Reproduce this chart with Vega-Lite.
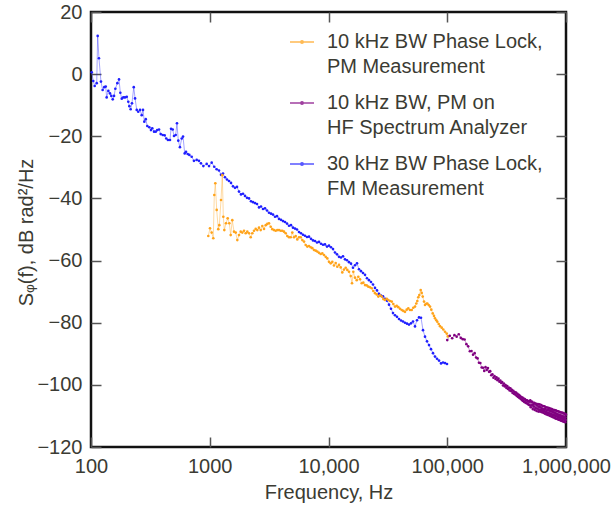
{
 "$schema": "https://vega.github.io/schema/vega-lite/v6.json",
 "width": 475,
 "height": 435,
 "autosize": {"type": "none"},
 "padding": {"left": 91, "top": 12, "right": 46, "bottom": 61},
 "background": "white",
 "config": {
  "font": "Liberation Sans",
  "view": {"stroke": "#111111", "strokeWidth": 2.5},
  "axis": {
   "labelFont": "Liberation Sans", "labelFontSize": 20, "labelColor": "#3b3b33",
   "titleFont": "Liberation Sans", "titleFontSize": 20, "titleFontWeight": "normal", "titleColor": "#3b3b33",
   "domain": false, "grid": false, "tickSize": 10, "offset": -10, "tickColor": "#555555", "tickWidth": 1.5
  }
 },
 "data": {"values": [
  {"series":"FM","freq":101.4,"value":0.6},{"series":"FM","freq":104.5,"value":-2.2},{"series":"FM","freq":107.4,"value":-3.8},{"series":"FM","freq":111.7,"value":-2.9},{"series":"FM","freq":113.8,"value":12.3},{"series":"FM","freq":116.7,"value":5.1},{"series":"FM","freq":121.3,"value":-2.4},{"series":"FM","freq":125.3,"value":-5.1},{"series":"FM","freq":129.4,"value":-4.2},{"series":"FM","freq":133,"value":-4.0},{"series":"FM","freq":135.5,"value":-7.5},{"series":"FM","freq":140,"value":-5.4},{"series":"FM","freq":144.5,"value":-6.2},{"series":"FM","freq":148.3,"value":-7.0},{"series":"FM","freq":152.4,"value":-8.1},{"series":"FM","freq":156.3,"value":-7.0},{"series":"FM","freq":160.3,"value":-4.7},{"series":"FM","freq":166.7,"value":-2.9},{"series":"FM","freq":172.2,"value":-1.7},{"series":"FM","freq":176.6,"value":-6.0},{"series":"FM","freq":181.6,"value":-7.9},{"series":"FM","freq":187.1,"value":-7.5},{"series":"FM","freq":193.2,"value":-7.5},{"series":"FM","freq":200,"value":-7.3},{"series":"FM","freq":206.1,"value":-8.9},{"series":"FM","freq":210.4,"value":-10.3},{"series":"FM","freq":215.8,"value":-11.3},{"series":"FM","freq":221.3,"value":-9.4},{"series":"FM","freq":229.1,"value":-4.2},{"series":"FM","freq":235,"value":-7.8},{"series":"FM","freq":242.7,"value":-11.5},{"series":"FM","freq":250,"value":-12.1},{"series":"FM","freq":258.8,"value":-11.5},{"series":"FM","freq":267.3,"value":-13.2},{"series":"FM","freq":274.2,"value":-11.5},{"series":"FM","freq":281.2,"value":-15.3},{"series":"FM","freq":289.1,"value":-14.5},{"series":"FM","freq":297.8,"value":-16.7},{"series":"FM","freq":309.7,"value":-17.1},{"series":"FM","freq":319.9,"value":-18.0},{"series":"FM","freq":328.1,"value":-17.4},{"series":"FM","freq":339.6,"value":-18.5},{"series":"FM","freq":350.8,"value":-18.5},{"series":"FM","freq":361.4,"value":-18.0},{"series":"FM","freq":374.1,"value":-17.8},{"series":"FM","freq":386.4,"value":-19.3},{"series":"FM","freq":401.8,"value":-19.6},{"series":"FM","freq":416.9,"value":-19.7},{"series":"FM","freq":430.5,"value":-20.7},{"series":"FM","freq":444.6,"value":-21.2},{"series":"FM","freq":462.4,"value":-21.2},{"series":"FM","freq":472.1,"value":-17.6},{"series":"FM","freq":487.5,"value":-17.8},{"series":"FM","freq":500,"value":-19.9},{"series":"FM","freq":516.4,"value":-19.6},{"series":"FM","freq":529.7,"value":-15.8},{"series":"FM","freq":543.3,"value":-21.4},{"series":"FM","freq":561,"value":-23.5},{"series":"FM","freq":580.8,"value":-20.7},{"series":"FM","freq":595.7,"value":-20.1},{"series":"FM","freq":615.2,"value":-25.5},{"series":"FM","freq":631,"value":-25.0},{"series":"FM","freq":651.6,"value":-25.7},{"series":"FM","freq":673,"value":-26.0},{"series":"FM","freq":704.7,"value":-26.6},{"series":"FM","freq":736.2,"value":-27.9},{"series":"FM","freq":776.2,"value":-27.6},{"series":"FM","freq":811,"value":-27.9},{"series":"FM","freq":843.3,"value":-28.7},{"series":"FM","freq":883.1,"value":-29.6},{"series":"FM","freq":941.9,"value":-28.9},{"series":"FM","freq":986.3,"value":-29.6},{"series":"FM","freq":1038,"value":-28.5},{"series":"FM","freq":1091,"value":-29.8},{"series":"FM","freq":1143,"value":-30.6},
  {"series":"FM","freq":1196,"value":-31.0},{"series":"FM","freq":1244,"value":-32.4},{"series":"FM","freq":1293,"value":-32.0},{"series":"FM","freq":1344,"value":-33.2},{"series":"FM","freq":1397,"value":-33.9},{"series":"FM","freq":1453,"value":-34.4},{"series":"FM","freq":1510,"value":-35.0},{"series":"FM","freq":1570,"value":-36.1},{"series":"FM","freq":1632,"value":-36.6},{"series":"FM","freq":1696,"value":-36.3},{"series":"FM","freq":1763,"value":-37.8},{"series":"FM","freq":1833,"value":-38.7},{"series":"FM","freq":1906,"value":-38.5},{"series":"FM","freq":1981,"value":-39.2},{"series":"FM","freq":2059,"value":-39.8},{"series":"FM","freq":2141,"value":-40.0},{"series":"FM","freq":2225,"value":-40.9},{"series":"FM","freq":2313,"value":-41.2},{"series":"FM","freq":2405,"value":-41.5},{"series":"FM","freq":2500,"value":-41.8},{"series":"FM","freq":2599,"value":-42.9},{"series":"FM","freq":2701,"value":-42.6},{"series":"FM","freq":2808,"value":-43.4},{"series":"FM","freq":2919,"value":-43.2},{"series":"FM","freq":3035,"value":-43.9},{"series":"FM","freq":3155,"value":-44.6},{"series":"FM","freq":3280,"value":-44.9},{"series":"FM","freq":3409,"value":-45.2},{"series":"FM","freq":3544,"value":-45.9},{"series":"FM","freq":3684,"value":-45.7},{"series":"FM","freq":3830,"value":-46.6},{"series":"FM","freq":3981,"value":-46.9},{"series":"FM","freq":4139,"value":-47.3},{"series":"FM","freq":4302,"value":-47.6},{"series":"FM","freq":4472,"value":-48.1},{"series":"FM","freq":4649,"value":-48.8},{"series":"FM","freq":4833,"value":-48.6},{"series":"FM","freq":5024,"value":-49.4},{"series":"FM","freq":5223,"value":-49.7},{"series":"FM","freq":5429,"value":-50.0},{"series":"FM","freq":5644,"value":-50.8},{"series":"FM","freq":5867,"value":-51.2},{"series":"FM","freq":6099,"value":-51.7},{"series":"FM","freq":6340,"value":-52.0},{"series":"FM","freq":6591,"value":-52.4},{"series":"FM","freq":6852,"value":-52.3},{"series":"FM","freq":7123,"value":-53.0},{"series":"FM","freq":7404,"value":-53.5},{"series":"FM","freq":7697,"value":-53.7},{"series":"FM","freq":8001,"value":-54.2},{"series":"FM","freq":8318,"value":-54.0},{"series":"FM","freq":8647,"value":-54.6},{"series":"FM","freq":8989,"value":-54.9},{"series":"FM","freq":9344,"value":-54.8},{"series":"FM","freq":9714,"value":-55.5},{"series":"FM","freq":10098,"value":-55.2},{"series":"FM","freq":10497,"value":-55.7},{"series":"FM","freq":10912,"value":-56.3},{"series":"FM","freq":11344,"value":-57.4},{"series":"FM","freq":11792,"value":-58.0},{"series":"FM","freq":12258,"value":-58.8},{"series":"FM","freq":12743,"value":-59.0},{"series":"FM","freq":13247,"value":-58.6},{"series":"FM","freq":13771,"value":-59.6},{"series":"FM","freq":14315,"value":-59.9},{"series":"FM","freq":14881,"value":-60.5},{"series":"FM","freq":15469,"value":-61.0},{"series":"FM","freq":16081,"value":-62.3},{"series":"FM","freq":16717,"value":-61.5},{"series":"FM","freq":17378,"value":-60.9},{"series":"FM","freq":18065,"value":-62.8},{"series":"FM","freq":18780,"value":-63.4},{"series":"FM","freq":19522,"value":-64.0},{"series":"FM","freq":20294,"value":-64.6},{"series":"FM","freq":21097,"value":-65.7},{"series":"FM","freq":21931,"value":-66.3},{"series":"FM","freq":22798,"value":-66.9},{"series":"FM","freq":23700,"value":-67.7},{"series":"FM","freq":24637,"value":-68.8},{"series":"FM","freq":25611,"value":-69.6},{"series":"FM","freq":26624,"value":-70.7},{"series":"FM","freq":27677,"value":-71.3},{"series":"FM","freq":28771,"value":-71.5},{"series":"FM","freq":29909,"value":-72.3},{"series":"FM","freq":31092,"value":-72.9},{"series":"FM","freq":32321,"value":-74.2},{"series":"FM","freq":33599,"value":-75.5},{"series":"FM","freq":34928,"value":-76.9},{"series":"FM","freq":36309,"value":-77.6},{"series":"FM","freq":37745,"value":-78.1},{"series":"FM","freq":39237,"value":-78.8},{"series":"FM","freq":40789,"value":-79.3},{"series":"FM","freq":42402,"value":-79.6},{"series":"FM","freq":44079,"value":-80.0},{"series":"FM","freq":45822,"value":-80.3},{"series":"FM","freq":47634,"value":-80.6},{"series":"FM","freq":49518,"value":-80.2},{"series":"FM","freq":51476,"value":-79.6},{"series":"FM","freq":53512,"value":-81.2},{"series":"FM","freq":55628,"value":-79.2},{"series":"FM","freq":57828,"value":-78.3},{"series":"FM","freq":60115,"value":-78.4},{"series":"FM","freq":62492,"value":-82.4},{"series":"FM","freq":64964,"value":-84.5},{"series":"FM","freq":67533,"value":-86.0},{"series":"FM","freq":70204,"value":-87.2},{"series":"FM","freq":72980,"value":-88.5},{"series":"FM","freq":75866,"value":-89.8},{"series":"FM","freq":78866,"value":-90.9},{"series":"FM","freq":81985,"value":-91.6},{"series":"FM","freq":85227,"value":-92.2},{"series":"FM","freq":88598,"value":-93.1},{"series":"FM","freq":92101,"value":-92.8},{"series":"FM","freq":95743,"value":-93.0},{"series":"FM","freq":99530,"value":-93.3},
  {"series":"PM","freq":972,"value":-52.1},{"series":"PM","freq":1005,"value":-49.6},{"series":"PM","freq":1038,"value":-51.0},{"series":"PM","freq":1071,"value":-52.8},{"series":"PM","freq":1092,"value":-38.9},{"series":"PM","freq":1114,"value":-35.1},{"series":"PM","freq":1144,"value":-43.7},{"series":"PM","freq":1180,"value":-49.9},{"series":"PM","freq":1204,"value":-48.6},{"series":"PM","freq":1244,"value":-40.5},{"series":"PM","freq":1276,"value":-32.5},{"series":"PM","freq":1301,"value":-45.9},{"series":"PM","freq":1326,"value":-50.2},{"series":"PM","freq":1370,"value":-48.0},{"series":"PM","freq":1416,"value":-46.4},{"series":"PM","freq":1461,"value":-48.0},{"series":"PM","freq":1501,"value":-51.8},{"series":"PM","freq":1548,"value":-47.0},{"series":"PM","freq":1601,"value":-50.7},{"series":"PM","freq":1654,"value":-51.0},{"series":"PM","freq":1706,"value":-53.4},{"series":"PM","freq":1763,"value":-51.8},{"series":"PM","freq":1823,"value":-50.7},{"series":"PM","freq":1880,"value":-51.0},{"series":"PM","freq":1943,"value":-50.4},{"series":"PM","freq":2008,"value":-51.2},{"series":"PM","freq":2072,"value":-50.7},{"series":"PM","freq":2141,"value":-51.2},{"series":"PM","freq":2212,"value":-52.5},{"series":"PM","freq":2282,"value":-51.2},{"series":"PM","freq":2358,"value":-50.4},{"series":"PM","freq":2437,"value":-49.8},{"series":"PM","freq":2514,"value":-50.2},{"series":"PM","freq":2598,"value":-49.4},{"series":"PM","freq":2686,"value":-50.2},{"series":"PM","freq":2771,"value":-48.9},{"series":"PM","freq":2863,"value":-49.8},{"series":"PM","freq":2960,"value":-48.6},{"series":"PM","freq":3052,"value":-48.2},{"series":"PM","freq":3154,"value":-48.0},{"series":"PM","freq":3260,"value":-49.1},{"series":"PM","freq":3363,"value":-49.9},{"series":"PM","freq":3476,"value":-50.2},{"series":"PM","freq":3593,"value":-50.4},{"series":"PM","freq":3706,"value":-50.2},{"series":"PM","freq":3831,"value":-50.2},{"series":"PM","freq":3960,"value":-50.4},{"series":"PM","freq":4083,"value":-50.4},{"series":"PM","freq":4220,"value":-50.7},{"series":"PM","freq":4361,"value":-51.2},{"series":"PM","freq":4499,"value":-52.1},{"series":"PM","freq":4650,"value":-52.5},{"series":"PM","freq":4805,"value":-52.5},{"series":"PM","freq":4957,"value":-51.0},{"series":"PM","freq":5123,"value":-52.5},{"series":"PM","freq":5295,"value":-52.1},{"series":"PM","freq":5462,"value":-53.2},{"series":"PM","freq":5645,"value":-52.5},{"series":"PM","freq":5834,"value":-52.5},{"series":"PM","freq":6018,"value":-53.4},{"series":"PM","freq":6220,"value":-53.9},{"series":"PM","freq":6427,"value":-55.0},{"series":"PM","freq":6630,"value":-55.5},{"series":"PM","freq":6852,"value":-55.3},{"series":"PM","freq":7081,"value":-55.7},{"series":"PM","freq":7305,"value":-56.0},{"series":"PM","freq":7550,"value":-56.6},{"series":"PM","freq":7803,"value":-56.8},{"series":"PM","freq":8049,"value":-57.1},{"series":"PM","freq":8318,"value":-57.5},{"series":"PM","freq":8597,"value":-57.9},{"series":"PM","freq":8868,"value":-57.7},{"series":"PM","freq":9165,"value":-58.2},{"series":"PM","freq":9471,"value":-58.8},{"series":"PM","freq":9770,"value":-59.3},{"series":"PM","freq":10097,"value":-60.4},{"series":"PM","freq":10435,"value":-60.9},{"series":"PM","freq":10765,"value":-60.4},{"series":"PM","freq":11125,"value":-61.6},{"series":"PM","freq":11497,"value":-60.8},{"series":"PM","freq":11861,"value":-62.0},{"series":"PM","freq":12258,"value":-61.4},{"series":"PM","freq":12668,"value":-62.2},{"series":"PM","freq":13068,"value":-63.8},{"series":"PM","freq":13505,"value":-62.9},{"series":"PM","freq":13957,"value":-62.3},{"series":"PM","freq":14398,"value":-63.0},{"series":"PM","freq":14881,"value":-63.6},{"series":"PM","freq":15379,"value":-65.0},{"series":"PM","freq":15775,"value":-67.3},{"series":"PM","freq":16177,"value":-63.6},{"series":"PM","freq":16721,"value":-65.5},{"series":"PM","freq":17281,"value":-66.3},{"series":"PM","freq":17823,"value":-65.2},{"series":"PM","freq":18423,"value":-66.0},{"series":"PM","freq":19040,"value":-67.3},{"series":"PM","freq":19641,"value":-67.1},{"series":"PM","freq":20299,"value":-67.9},{"series":"PM","freq":20980,"value":-68.0},{"series":"PM","freq":21642,"value":-68.4},{"series":"PM","freq":22367,"value":-68.6},{"series":"PM","freq":23116,"value":-68.9},{"series":"PM","freq":23845,"value":-69.8},{"series":"PM","freq":24644,"value":-70.5},{"series":"PM","freq":25469,"value":-70.9},{"series":"PM","freq":26273,"value":-71.6},{"series":"PM","freq":27154,"value":-71.2},{"series":"PM","freq":28063,"value":-71.6},{"series":"PM","freq":28949,"value":-72.4},{"series":"PM","freq":29918,"value":-72.7},{"series":"PM","freq":30920,"value":-72.3},{"series":"PM","freq":31896,"value":-72.7},{"series":"PM","freq":32964,"value":-73.0},{"series":"PM","freq":34068,"value":-73.2},{"series":"PM","freq":35143,"value":-74.0},{"series":"PM","freq":36320,"value":-74.8},{"series":"PM","freq":37536,"value":-74.6},{"series":"PM","freq":38720,"value":-75.0},{"series":"PM","freq":40017,"value":-75.5},{"series":"PM","freq":41357,"value":-75.9},{"series":"PM","freq":42662,"value":-76.2},{"series":"PM","freq":44090,"value":-76.5},{"series":"PM","freq":45567,"value":-75.8},{"series":"PM","freq":46999,"value":-75.4},{"series":"PM","freq":48574,"value":-75.9},{"series":"PM","freq":50201,"value":-75.9},{"series":"PM","freq":51785,"value":-75.2},{"series":"PM","freq":53519,"value":-74.8},{"series":"PM","freq":54891,"value":-73.8},{"series":"PM","freq":55963,"value":-73.0},{"series":"PM","freq":57058,"value":-71.8},{"series":"PM","freq":58173,"value":-71.1},{"series":"PM","freq":59775,"value":-69.5},{"series":"PM","freq":60943,"value":-70.4},{"series":"PM","freq":62147,"value":-71.6},{"series":"PM","freq":63729,"value":-73.2},{"series":"PM","freq":64975,"value":-74.3},{"series":"PM","freq":66637,"value":-73.9},{"series":"PM","freq":67940,"value":-73.8},{"series":"PM","freq":69813,"value":-74.3},{"series":"PM","freq":71589,"value":-74.8},{"series":"PM","freq":73424,"value":-75.8},{"series":"PM","freq":75447,"value":-77.0},{"series":"PM","freq":77365,"value":-77.8},{"series":"PM","freq":78879,"value":-78.6},{"series":"PM","freq":80898,"value":-79.2},{"series":"PM","freq":82480,"value":-79.7},{"series":"PM","freq":84723,"value":-80.4},{"series":"PM","freq":86876,"value":-81.1},{"series":"PM","freq":89800,"value":-81.6},{"series":"PM","freq":92623,"value":-82.2},{"series":"PM","freq":95745,"value":-82.9},{"series":"PM","freq":98950,"value":-83.5},{"series":"PM","freq":101000,"value":-84.4},
  {"series":"HF","freq":100000,"value":-85.6},{"series":"HF","freq":105000,"value":-84.2},{"series":"HF","freq":110000,"value":-85.0},{"series":"HF","freq":115000,"value":-84.0},{"series":"HF","freq":120000,"value":-84.5},{"series":"HF","freq":125000,"value":-83.7},{"series":"HF","freq":130000,"value":-84.9},{"series":"HF","freq":135000,"value":-85.3},{"series":"HF","freq":140000,"value":-85.4},{"series":"HF","freq":145000,"value":-86.9},{"series":"HF","freq":150000,"value":-87.6},{"series":"HF","freq":155000,"value":-89.2},{"series":"HF","freq":160000,"value":-89.1},{"series":"HF","freq":165000,"value":-90.3},{"series":"HF","freq":170000,"value":-89.8},{"series":"HF","freq":175000,"value":-91.2},{"series":"HF","freq":180000,"value":-91.5},{"series":"HF","freq":185000,"value":-92.9},{"series":"HF","freq":190000,"value":-93.0},{"series":"HF","freq":195000,"value":-94.4},{"series":"HF","freq":200000,"value":-94.5},{"series":"HF","freq":205000,"value":-95.5},{"series":"HF","freq":210000,"value":-94.3},{"series":"HF","freq":215000,"value":-95.2},{"series":"HF","freq":220000,"value":-94.6},{"series":"HF","freq":225000,"value":-95.8},{"series":"HF","freq":230000,"value":-95.6},{"series":"HF","freq":235000,"value":-96.9},{"series":"HF","freq":240000,"value":-96.6},{"series":"HF","freq":245000,"value":-97.7},{"series":"HF","freq":250000,"value":-97.2},{"series":"HF","freq":255000,"value":-98.1},{"series":"HF","freq":260000,"value":-97.6},{"series":"HF","freq":265000,"value":-98.5},{"series":"HF","freq":270000,"value":-98.0},{"series":"HF","freq":275000,"value":-99.0},{"series":"HF","freq":280000,"value":-98.6},{"series":"HF","freq":285000,"value":-99.4},{"series":"HF","freq":290000,"value":-99.1},{"series":"HF","freq":295000,"value":-100.2},{"series":"HF","freq":300000,"value":-99.6},{"series":"HF","freq":305000,"value":-100.5},{"series":"HF","freq":310000,"value":-100.1},{"series":"HF","freq":315000,"value":-101.0},{"series":"HF","freq":320000,"value":-100.4},{"series":"HF","freq":325000,"value":-101.3},{"series":"HF","freq":330000,"value":-100.9},{"series":"HF","freq":335000,"value":-101.8},{"series":"HF","freq":340000,"value":-101.1},{"series":"HF","freq":345000,"value":-102.0},{"series":"HF","freq":350000,"value":-101.6},{"series":"HF","freq":355000,"value":-102.6},{"series":"HF","freq":360000,"value":-101.9},{"series":"HF","freq":365000,"value":-102.9},{"series":"HF","freq":370000,"value":-102.3},{"series":"HF","freq":375000,"value":-103.2},{"series":"HF","freq":380000,"value":-102.5},{"series":"HF","freq":385000,"value":-103.6},{"series":"HF","freq":390000,"value":-102.9},{"series":"HF","freq":395000,"value":-103.9},{"series":"HF","freq":400000,"value":-103.2},{"series":"HF","freq":405000,"value":-104.2},{"series":"HF","freq":410000,"value":-103.5},{"series":"HF","freq":415000,"value":-104.5},{"series":"HF","freq":420000,"value":-103.9},{"series":"HF","freq":425000,"value":-104.9},{"series":"HF","freq":430000,"value":-104.1},{"series":"HF","freq":435000,"value":-105.2},{"series":"HF","freq":440000,"value":-104.4},{"series":"HF","freq":445000,"value":-105.5},{"series":"HF","freq":450000,"value":-104.6},{"series":"HF","freq":455000,"value":-105.7},{"series":"HF","freq":460000,"value":-104.9},{"series":"HF","freq":465000,"value":-105.9},{"series":"HF","freq":470000,"value":-105.0},{"series":"HF","freq":475000,"value":-106.1},{"series":"HF","freq":480000,"value":-105.2},{"series":"HF","freq":485000,"value":-106.4},{"series":"HF","freq":490000,"value":-105.4},{"series":"HF","freq":495000,"value":-106.6},
  {"series":"HF","freq":500000,"value":-105.0},{"series":"HF","freq":505000,"value":-107.2},{"series":"HF","freq":510000,"value":-105.4},{"series":"HF","freq":515000,"value":-106.6},{"series":"HF","freq":520000,"value":-105.5},{"series":"HF","freq":525000,"value":-107.8},{"series":"HF","freq":530000,"value":-106.3},{"series":"HF","freq":535000,"value":-107.0},{"series":"HF","freq":540000,"value":-105.8},{"series":"HF","freq":545000,"value":-108.1},{"series":"HF","freq":550000,"value":-106.0},{"series":"HF","freq":555000,"value":-107.5},{"series":"HF","freq":560000,"value":-106.1},{"series":"HF","freq":565000,"value":-108.4},{"series":"HF","freq":570000,"value":-106.6},{"series":"HF","freq":575000,"value":-107.7},{"series":"HF","freq":580000,"value":-106.2},{"series":"HF","freq":585000,"value":-108.6},{"series":"HF","freq":590000,"value":-107.0},{"series":"HF","freq":595000,"value":-108.0},{"series":"HF","freq":600000,"value":-106.3},{"series":"HF","freq":605000,"value":-108.6},{"series":"HF","freq":610000,"value":-107.2},{"series":"HF","freq":615000,"value":-108.1},{"series":"HF","freq":620000,"value":-106.5},{"series":"HF","freq":625000,"value":-108.8},{"series":"HF","freq":630000,"value":-107.6},{"series":"HF","freq":635000,"value":-108.3},{"series":"HF","freq":640000,"value":-106.8},{"series":"HF","freq":645000,"value":-109.0},{"series":"HF","freq":650000,"value":-107.9},{"series":"HF","freq":655000,"value":-108.5},{"series":"HF","freq":660000,"value":-106.9},{"series":"HF","freq":665000,"value":-109.3},{"series":"HF","freq":670000,"value":-107.7},{"series":"HF","freq":675000,"value":-108.7},{"series":"HF","freq":680000,"value":-107.2},{"series":"HF","freq":685000,"value":-109.5},{"series":"HF","freq":690000,"value":-108.2},{"series":"HF","freq":695000,"value":-109.0},{"series":"HF","freq":700000,"value":-107.3},{"series":"HF","freq":705000,"value":-109.7},{"series":"HF","freq":710000,"value":-108.0},{"series":"HF","freq":715000,"value":-109.1},{"series":"HF","freq":720000,"value":-107.5},{"series":"HF","freq":725000,"value":-109.9},{"series":"HF","freq":730000,"value":-108.3},{"series":"HF","freq":735000,"value":-109.3},{"series":"HF","freq":740000,"value":-107.6},{"series":"HF","freq":745000,"value":-110.1},{"series":"HF","freq":750000,"value":-108.5},{"series":"HF","freq":755000,"value":-109.5},{"series":"HF","freq":760000,"value":-107.8},{"series":"HF","freq":765000,"value":-110.3},{"series":"HF","freq":770000,"value":-108.6},{"series":"HF","freq":775000,"value":-109.7},{"series":"HF","freq":780000,"value":-108.0},{"series":"HF","freq":785000,"value":-110.5},{"series":"HF","freq":790000,"value":-108.9},{"series":"HF","freq":795000,"value":-109.8},{"series":"HF","freq":800000,"value":-108.1},{"series":"HF","freq":805000,"value":-110.7},{"series":"HF","freq":810000,"value":-109.0},{"series":"HF","freq":815000,"value":-110.0},{"series":"HF","freq":820000,"value":-108.2},{"series":"HF","freq":825000,"value":-110.9},{"series":"HF","freq":830000,"value":-109.3},{"series":"HF","freq":835000,"value":-110.2},{"series":"HF","freq":840000,"value":-108.4},{"series":"HF","freq":845000,"value":-111.0},{"series":"HF","freq":850000,"value":-109.5},{"series":"HF","freq":855000,"value":-110.3},{"series":"HF","freq":860000,"value":-108.5},{"series":"HF","freq":865000,"value":-111.2},{"series":"HF","freq":870000,"value":-109.7},{"series":"HF","freq":875000,"value":-110.5},{"series":"HF","freq":880000,"value":-108.7},{"series":"HF","freq":885000,"value":-111.3},{"series":"HF","freq":890000,"value":-109.8},{"series":"HF","freq":895000,"value":-110.6},{"series":"HF","freq":900000,"value":-108.8},{"series":"HF","freq":905000,"value":-111.5},{"series":"HF","freq":910000,"value":-110.0},{"series":"HF","freq":915000,"value":-110.8},{"series":"HF","freq":920000,"value":-108.9},{"series":"HF","freq":925000,"value":-111.6},{"series":"HF","freq":930000,"value":-110.1},{"series":"HF","freq":935000,"value":-110.9},{"series":"HF","freq":940000,"value":-109.0},{"series":"HF","freq":945000,"value":-111.8},{"series":"HF","freq":950000,"value":-110.2},{"series":"HF","freq":955000,"value":-111.0},{"series":"HF","freq":960000,"value":-109.2},{"series":"HF","freq":965000,"value":-111.9},{"series":"HF","freq":970000,"value":-110.4},{"series":"HF","freq":975000,"value":-111.2},{"series":"HF","freq":980000,"value":-109.3},{"series":"HF","freq":985000,"value":-112.0},{"series":"HF","freq":990000,"value":-110.5},{"series":"HF","freq":995000,"value":-111.3},{"series":"HF","freq":1000000,"value":-109.6}
 ]},
 "layer": [
  {
   "mark": {"type": "line", "strokeWidth": 1, "opacity": 0.4},
   "encoding": {
    "x": {"field": "freq", "type": "quantitative",
     "scale": {"type": "log", "domain": [100, 1000000], "nice": false},
     "axis": {"orient": "bottom", "values": [100, 1000, 10000, 100000, 1000000], "labelExpr": "datum.value < 5000 ? format(datum.value, 'd') : format(datum.value, ',')", "title": "Frequency, Hz", "labelPadding": 9, "titlePadding": 6, "labelFlush": false}},
    "y": {"field": "value", "type": "quantitative",
     "scale": {"domain": [-120, 20], "nice": false, "zero": false},
     "axis": {"orient": "left", "values": [-120, -100, -80, -60, -40, -20, 0, 20], "title": "Sᵩ(f), dB rad²/Hz", "labelPadding": 9, "titlePadding": 0, "titleY": 220}},
    "color": {"field": "series", "type": "nominal",
     "scale": {"domain": ["PM", "HF", "FM"], "range": ["#ffa31a", "#800080", "#1f1fff"]},
     "legend": {
      "title": null, "orient": "none", "legendX": 198, "legendY": 17,
      "labelExpr": "datum.label == 'PM' ? ['10 kHz BW Phase Lock,', 'PM Measurement'] : datum.label == 'HF' ? ['10 kHz BW, PM on', 'HF Spectrum Analyzer'] : ['30 kHz BW Phase Lock,', 'FM Measurement']",
      "symbolType": "M-1,0L1,0M-0.1,0A0.1,0.1 0 1 1 0.1,0A0.1,0.1 0 1 1 -0.1,0Z",
      "symbolSize": 576, "symbolStrokeWidth": 1.6, "symbolOpacity": 0.75,
      "labelFont": "Liberation Sans", "labelFontSize": 20, "labelColor": "#3b3b33",
      "labelOffset": 12, "labelLimit": 400, "rowPadding": 13,
      "encode": {"labels": {"update": {"lineHeight": {"value": 25}}}}
     }}
   }
  },
  {
   "mark": {"type": "point", "filled": true, "size": 7, "opacity": 1},
   "encoding": {
    "x": {"field": "freq", "type": "quantitative",
     "scale": {"type": "log", "domain": [100, 1000000], "nice": false},
     "axis": {"orient": "top", "values": [100, 1000, 10000, 100000, 1000000], "labels": false, "title": null}},
    "y": {"field": "value", "type": "quantitative",
     "scale": {"domain": [-120, 20], "nice": false, "zero": false},
     "axis": {"orient": "right", "values": [-120, -100, -80, -60, -40, -20, 0, 20], "labels": false, "title": null}},
    "color": {"field": "series", "type": "nominal",
     "scale": {"domain": ["PM", "HF", "FM"], "range": ["#ffa31a", "#800080", "#1f1fff"]}}
   }
  }
 ],
 "resolve": {"axis": {"x": "independent", "y": "independent"}}
}
